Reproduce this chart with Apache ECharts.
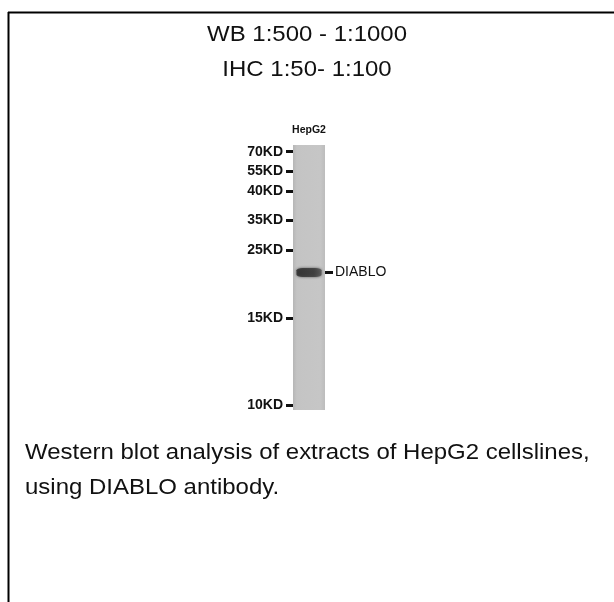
<!DOCTYPE html>
<html><head><meta charset="utf-8">
<script src="https://cdn.jsdelivr.net/npm/echarts@6/dist/echarts.min.js"></script>
<style>html,body{margin:0;padding:0;background:#fff}#c{width:614px;height:602px}</style>
</head><body><div id="c"></div>
<script>
// Data
var lanes = ['HepG2'];
var markerLabels = ['70KD', '55KD', '40KD', '35KD', '25KD', '15KD', '10KD'];
var markerMigration = [6.7, 26, 46, 75, 105, 173, 260]; // distance from lane top
var laneLength = 265;
var bandLabels = ['DIABLO'];
var bandMigration = [127.5];
var titleLines = ['WB 1:500 - 1:1000', 'IHC 1:50- 1:100'];
var captionLines = ['Western blot analysis of extracts of HepG2 cellslines,', 'using DIABLO antibody.'];

var FONT = 'Liberation Sans, Arial, sans-serif';
var chart = echarts.init(document.getElementById('c'));
var labelMap = {};
markerMigration.forEach(function (v, i) { labelMap[v] = markerLabels[i]; });
var bandMap = {};
bandMigration.forEach(function (v, i) { bandMap[v] = bandLabels[i]; });

function txt(s, x, y, align) {
  return { type: 'text', x: x, y: y, scaleX: 1.09, scaleY: 1,
    style: { text: s, fontSize: 22, fontFamily: FONT, fill: '#111', textAlign: align, textVerticalAlign: 'middle' } };
}

chart.setOption({
  animation: false,
  backgroundColor: '#fff',
  grid: { left: 293, top: 145, width: 32, height: 265 },
  xAxis: {
    type: 'category', data: lanes, position: 'top',
    axisLine: { show: false }, axisTick: { show: false },
    axisLabel: { margin: 9, fontSize: 10.5, fontWeight: 'bold', color: '#111', fontFamily: FONT }
  },
  yAxis: [{
    type: 'value', inverse: true, min: 0, max: laneLength,
    splitLine: { show: false }, axisLine: { show: false },
    axisTick: { show: true, customValues: markerMigration, length: 7, lineStyle: { color: '#111', width: 3 } },
    axisLabel: {
      show: true, customValues: markerMigration, margin: 10,
      fontSize: 14, fontWeight: 'bold', color: '#111', fontFamily: FONT,
      formatter: function (v) { return labelMap[v] || ''; }
    }
  }, {
    type: 'value', inverse: true, min: 0, max: laneLength, position: 'right',
    splitLine: { show: false }, axisLine: { show: false },
    axisTick: { show: true, customValues: bandMigration, length: 8, inside: false, lineStyle: { color: '#111', width: 3 } },
    axisLabel: {
      show: true, customValues: bandMigration, margin: 10,
      fontSize: 14, color: '#111', fontFamily: FONT,
      formatter: function (v) { return bandMap[v] || ''; }
    }
  }],
  series: [{
    type: 'bar', data: [laneLength], barWidth: '100%', silent: true,
    itemStyle: {
      color: new echarts.graphic.LinearGradient(0, 0, 1, 0, [
        { offset: 0, color: '#b6b6b6' }, { offset: 0.12, color: '#c4c4c4' },
        { offset: 0.85, color: '#c6c6c6' }, { offset: 1, color: '#bcbcbc' }
      ])
    }
  }, {
    type: 'scatter', data: [[lanes[0], bandMigration[0]]], symbol: 'roundRect',
    symbolSize: [25, 9], silent: true,
    itemStyle: {
      color: new echarts.graphic.LinearGradient(0, 0, 1, 0, [
        { offset: 0, color: '#2a2a2a' }, { offset: 0.7, color: '#383838' }, { offset: 1, color: '#555' }
      ]),
      shadowBlur: 3, shadowColor: 'rgba(30,30,30,0.8)'
    }
  }],
  graphic: [
    { type: 'line', shape: { x1: 8, y1: 12.5, x2: 614, y2: 12.5 }, style: { stroke: '#000', lineWidth: 2 } },
    { type: 'line', shape: { x1: 8.5, y1: 12, x2: 8.5, y2: 602 }, style: { stroke: '#000', lineWidth: 2 } },
    txt(titleLines[0], 307, 35, 'center'),
    txt(titleLines[1], 307, 70, 'center'),
    txt(captionLines[0], 25, 453, 'left'),
    txt(captionLines[1], 25, 488, 'left')
  ]
});
</script></body></html>
